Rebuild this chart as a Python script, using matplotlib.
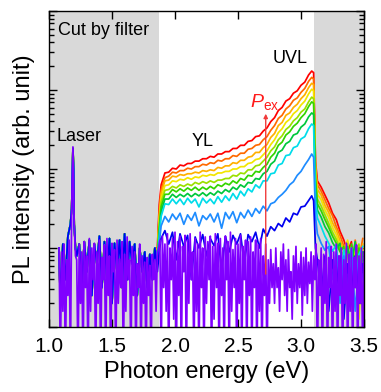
import numpy as np
import matplotlib
matplotlib.use("Agg")
import matplotlib.pyplot as plt
from matplotlib.ticker import LogLocator, NullFormatter, MultipleLocator, FormatStrFormatter

plt.rcParams['font.family'] = ['Liberation Sans', 'DejaVu Sans']
plt.rcParams['mathtext.fontset'] = 'custom'
plt.rcParams['mathtext.it'] = 'Liberation Sans:italic'
plt.rcParams['mathtext.rm'] = 'Liberation Sans'

# ---- data: log10(PL intensity) ----
# below-filter region + laser line (shared by the coloured spectra)
E_LOW = [1.08, 1.09, 1.11, 1.13, 1.15, 1.17, 1.18, 1.19, 1.195, 1.20, 1.21, 1.22,
         1.24, 1.26, 1.28, 1.30, 1.32, 1.34, 1.36, 1.38, 1.40, 1.42, 1.44, 1.46, 1.48,
         1.50, 1.52, 1.54, 1.56, 1.58, 1.60, 1.62, 1.64, 1.66, 1.68, 1.70, 1.72, 1.74,
         1.76, 1.78, 1.80, 1.82, 1.84]
LOW_LOG = [1.0, 0.3, 1.05, 0.6, 1.15, 1.3, 1.5, 2.26, 2.0, 1.3, 1.0, 0.9,
           1.05, 0.5, 1.08, 0.7, 1.1, 0.4, 1.05, 0.8, 1.15, 0.5, 1.08, 0.6, 1.12,
           0.3, 1.06, 0.7, 1.1, 0.5, 1.18, 0.6, 1.08, 0.8, 1.05, 0.4, 1.0, 0.7,
           0.95, 0.5, 0.92, 0.6, 1.0]

# YL / UVL window and the tail beyond the filter edge
E_SIG = [1.86, 1.875, 1.89,
         1.92, 1.95, 1.98, 2.01, 2.04, 2.07, 2.10, 2.13, 2.16, 2.19,
         2.22, 2.25, 2.28, 2.31, 2.34, 2.37, 2.40, 2.43, 2.46, 2.49,
         2.52, 2.55, 2.58, 2.61, 2.64, 2.67, 2.70, 2.73, 2.76, 2.79,
         2.82, 2.85, 2.88, 2.91, 2.94, 2.97, 3.00, 3.03, 3.06,
         3.085, 3.10, 3.115, 3.13,
         3.16, 3.19, 3.22, 3.25, 3.28, 3.31, 3.34, 3.37, 3.40, 3.43, 3.46, 3.49]

RED_LOG = [1.00, 1.55, 1.80,
           1.95, 1.96, 2.01, 2.00, 2.05, 2.04, 2.07, 2.07, 2.10, 2.10,
           2.13, 2.13, 2.16, 2.15, 2.19, 2.19, 2.22, 2.22, 2.26, 2.26,
           2.30, 2.30, 2.35, 2.36, 2.41, 2.42, 2.48, 2.52, 2.60, 2.65,
           2.74, 2.78, 2.86, 2.89, 2.96, 2.99, 3.06, 3.10, 3.19,
           3.24, 3.22, 2.10, 1.85,
           1.77, 1.67, 1.57, 1.44, 1.36, 1.21, 1.10, 0.95, 1.08, 0.50, 1.02, 0.30]
ORANGE_LOG = [0.95, 1.45, 1.74,
              1.89, 1.91, 1.96, 1.95, 1.98, 1.98, 2.01, 2.00, 2.03, 2.03,
              2.06, 2.05, 2.08, 2.07, 2.11, 2.10, 2.13, 2.13, 2.17, 2.16,
              2.20, 2.20, 2.25, 2.26, 2.30, 2.31, 2.37, 2.41, 2.49, 2.55,
              2.64, 2.68, 2.76, 2.80, 2.87, 2.90, 2.97, 3.02, 3.11,
              3.16, 3.14, 2.05, 1.80,
              1.72, 1.61, 1.50, 1.41, 1.27, 1.16, 1.02, 1.06, 0.40, 1.10, 0.85, 1.12]
GOLD_LOG = [0.90, 1.40, 1.69,
            1.85, 1.86, 1.91, 1.90, 1.93, 1.92, 1.94, 1.94, 1.96, 1.95,
            1.98, 1.97, 1.99, 1.98, 2.02, 2.01, 2.04, 2.04, 2.08, 2.07,
            2.11, 2.11, 2.15, 2.16, 2.21, 2.21, 2.27, 2.31, 2.40, 2.45,
            2.55, 2.59, 2.68, 2.71, 2.78, 2.82, 2.89, 2.94, 3.03,
            3.085, 3.07, 2.00, 1.74,
            1.67, 1.54, 1.45, 1.32, 1.23, 1.09, 0.99, 1.08, 0.20, 1.00, 0.60, 1.05]
YELLOW_LOG = [0.95, 1.35, 1.63,
              1.79, 1.80, 1.85, 1.84, 1.87, 1.86, 1.89, 1.87, 1.90, 1.89,
              1.92, 1.91, 1.93, 1.92, 1.95, 1.95, 1.97, 1.97, 2.00, 2.00,
              2.03, 2.03, 2.07, 2.08, 2.12, 2.13, 2.18, 2.23, 2.31, 2.37,
              2.46, 2.51, 2.59, 2.63, 2.70, 2.74, 2.81, 2.86, 2.95,
              3.01, 2.99, 1.95, 1.68,
              1.61, 1.48, 1.39, 1.26, 1.17, 1.04, 0.96, 1.10, 0.60, 1.04, 0.10, 1.00]
LIME_LOG = [0.90, 1.30, 1.58,
            1.73, 1.74, 1.78, 1.76, 1.80, 1.78, 1.81, 1.79, 1.83, 1.81,
            1.84, 1.82, 1.85, 1.83, 1.86, 1.86, 1.88, 1.88, 1.92, 1.91,
            1.95, 1.94, 1.99, 1.99, 2.04, 2.05, 2.10, 2.15, 2.23, 2.28,
            2.37, 2.42, 2.50, 2.54, 2.61, 2.65, 2.72, 2.76, 2.85,
            2.91, 2.89, 1.90, 1.62,
            1.53, 1.42, 1.31, 1.20, 1.11, 0.99, 0.90, 1.05, 0.30, 0.95, 1.05, 0.40]
GREEN_LOG = [0.85, 1.25, 1.52,
             1.68, 1.68, 1.74, 1.71, 1.75, 1.72, 1.76, 1.73, 1.77, 1.73,
             1.77, 1.74, 1.78, 1.75, 1.80, 1.78, 1.82, 1.80, 1.85, 1.82,
             1.88, 1.86, 1.92, 1.91, 1.97, 1.96, 2.02, 2.06, 2.15, 2.20,
             2.30, 2.34, 2.43, 2.47, 2.54, 2.58, 2.65, 2.70, 2.79,
             2.85, 2.83, 1.85, 1.56,
             1.47, 1.36, 1.26, 1.15, 1.06, 0.95, 1.02, 0.40, 1.05, 0.70, 1.00, 0.20]
TEAL_LOG = [0.90, 1.20, 1.46,
            1.62, 1.62, 1.68, 1.64, 1.68, 1.65, 1.69, 1.65, 1.69, 1.66,
            1.70, 1.66, 1.70, 1.67, 1.72, 1.69, 1.74, 1.71, 1.77, 1.74,
            1.80, 1.77, 1.83, 1.82, 1.88, 1.87, 1.94, 1.97, 2.06, 2.10,
            2.21, 2.24, 2.32, 2.35, 2.43, 2.45, 2.53, 2.57, 2.66,
            2.71, 2.69, 1.75, 1.48,
            1.39, 1.27, 1.19, 1.07, 0.99, 1.06, 0.50, 1.02, 0.80, 1.08, 0.30, 0.95]
CYAN_LOG = [0.85, 1.15, 1.40,
            1.56, 1.55, 1.62, 1.56, 1.62, 1.55, 1.63, 1.57, 1.62, 1.52,
            1.63, 1.57, 1.62, 1.56, 1.65, 1.58, 1.66, 1.60, 1.69, 1.62,
            1.72, 1.66, 1.75, 1.71, 1.80, 1.76, 1.85, 1.85, 1.94, 1.95,
            2.05, 2.07, 2.17, 2.18, 2.27, 2.29, 2.38, 2.41, 2.51,
            2.57, 2.55, 1.60, 1.38,
            1.27, 1.15, 1.06, 0.96, 1.04, 0.55, 0.98, 0.30, 1.00, 0.50, 0.92, 1.02]
AZURE_LOG = [0.80, 1.05, 1.28,
             1.40, 1.33, 1.43, 1.36, 1.44, 1.30, 1.42, 1.35, 1.45, 1.28,
             1.41, 1.36, 1.43, 1.33, 1.44, 1.25, 1.45, 1.37, 1.46, 1.32,
             1.45, 1.38, 1.48, 1.40, 1.50, 1.44, 1.53, 1.47, 1.56, 1.58,
             1.64, 1.68, 1.73, 1.80, 1.84, 1.92, 1.97, 2.05, 2.12,
             2.19, 2.15, 1.40, 1.18,
             1.06, 0.97, 1.02, 0.60, 0.95, 0.30, 0.90, 0.55, 0.98, 0.20, 0.85, 0.60]
BLUE_LOG = [0.70, 0.95, 1.12,
            1.22, 1.05, 1.20, 0.85, 1.18, 1.02, 1.16, 0.60, 1.14, 1.00,
            1.17, 0.90, 1.12, 1.03, 1.18, 0.70, 1.15, 0.95, 1.16, 1.05,
            1.18, 0.80, 1.17, 1.08, 1.20, 1.00, 1.24, 1.15, 1.27, 1.22,
            1.31, 1.27, 1.38, 1.33, 1.44, 1.42, 1.52, 1.53, 1.60,
            1.66, 1.60, 1.00, 0.85,
            0.40, 0.90, 0.20, 0.85, 0.50, 0.90, 0.10, 0.80, 0.40, 0.90, 0.30, 0.80]

# lowest power: noise only, sampled every 0.01 eV from 1.08 to 3.50 eV
VIOLET_LOG = [
    1.00, -0.5, 0.95, 0.2, 1.05, -0.5, 0.85, 0.4, 1.10, -0.5,
    1.5, 2.28, 1.3, 0.9, 0.85, -0.5, 1.05, 0.3, 0.95, -0.5,
    1.08, 0.5, 0.9, -0.5, 1.12, 0.2, 1.0, 0.6, 1.06, -0.5,
    0.95, 0.3, 1.1, -0.5, 0.88, 0.6, 1.04, -0.5, 1.12, 0.4,
    0.9, -0.5, 1.06, 0.7, 0.98, -0.5, 1.1, 0.3, 0.86, 0.5,
    1.08, -0.5, 0.92, 0.2, 1.14, 0.6, 0.85, -0.5, 1.02, 0.4,
    0.95, -0.5, 0.8, 0.5, 1.05, -0.5, 0.9, 0.3, 0.82, -0.5,
    0.88, 0.4, 0.78, -0.5, 0.92, 0.6, 0.85, 0.2, 0.95, 1.0,
    1.1, -0.5, 1.15, 0.5, 1.05, 0.2, 1.18, -0.5, 1.0, 0.6,
    1.12, 0.1, 1.2, -0.5, 1.08, 0.4, 1.15, -0.5, 1.02, 0.7,
    1.16, -0.5, 1.1, 0.3, 1.18, 0.6, 0.95, -0.5, 1.12, 0.2,
    1.05, -0.5, 1.2, 0.5, 1.0, -0.5, 1.14, 0.3, 1.08, 0.6,
    1.15, -0.5, 1.02, 0.1, 1.18, 0.5, 1.06, -0.5, 1.12, 0.4,
    1.0, -0.5, 1.15, 0.6, 1.08, -0.5, 1.2, 0.2, 0.98, 0.5,
    1.12, -0.5, 1.05, 0.3, 1.16, -0.5, 1.02, 0.6, 1.1, -0.5,
    1.08, 0.4, 1.14, -0.5, 0.95, 0.5, 1.1, -0.5, 1.04, 0.2,
    1.12, -0.5, 0.9, 0.4, 1.05, -0.5, 0.85, 0.3, 0.98, 0.5,
    0.8, 0.3, 1.0, 0.5, 0.75, 0.2, 0.95, 0.6, 1.05, 0.4,
    0.85, 0.2, 0.98, 0.5, 0.7, 0.1, 0.9, 0.45, 1.02, 0.3,
    0.8, 0.5, 0.95, 0.15, 0.88, 0.4, 1.0, 0.3, 0.82, 0.55,
    0.95, 0.2, 0.9, 0.6, 1.05, -0.5, 0.85, 0.4, 1.0, -0.5,
    0.92, 0.3, 1.08, -0.5, 0.88, 0.5, 1.02, -0.5, 0.95, 0.2,
    1.05, -0.5, 0.9, 0.4, 1.0, -0.5, 0.85, 0.3, 1.06, -0.5,
    0.92, 0.2, 1.0, -0.5, 0.88, 0.5, 1.04, -0.5, 0.9, 0.3,
    1.0, -0.5, 0.95]
E_VIOLET = np.linspace(1.08, 3.50, len(VIOLET_LOG))

SPECTRA = [(RED_LOG, "#ff0000"), (ORANGE_LOG, "#ff6a00"), (GOLD_LOG, "#ffb000"),
           (YELLOW_LOG, "#f2e600"), (LIME_LOG, "#9be000"), (GREEN_LOG, "#33d400"),
           (TEAL_LOG, "#00c83c"), (CYAN_LOG, "#00dcea"), (AZURE_LOG, "#1e8cff"),
           (BLUE_LOG, "#0000f0")]
VIOLET = "#8000ff"

FILTER_CUTS = [(1.0, 1.872), (3.105, 3.5)]
P_EX_ENERGY = 2.72
P_EX_SPAN = (0.67, 2.70)      # log10 of arrow tail / head

fig = plt.figure(figsize=(3.81, 3.92), dpi=100)
ax = fig.add_axes([0.1286, 0.1658, 0.8268, 0.8061])

for lo, hi in FILTER_CUTS:
    ax.axvspan(lo, hi, color="#d9d9d9", lw=0, zorder=0)

for vals, col in SPECTRA:
    assert len(vals) == len(E_SIG)
    x = np.array(E_LOW + E_SIG)
    y = 10.0 ** np.array(LOW_LOG + vals)
    ax.plot(x, y, color=col, lw=1.25, zorder=2)
ax.plot(E_VIOLET, 10.0 ** np.array(VIOLET_LOG), color=VIOLET, lw=1.25, zorder=3)

ax.annotate("", xy=(P_EX_ENERGY, 10 ** P_EX_SPAN[1]), xytext=(P_EX_ENERGY, 10 ** P_EX_SPAN[0]),
            arrowprops=dict(arrowstyle="-|>", color="#f03c3c", lw=1.0, mutation_scale=6,
                            shrinkA=0, shrinkB=0), zorder=5)
ax.text(2.595, 10 ** 2.78, r"$P_{\mathrm{ex}}$", color="#ff1a1a", fontsize=14,
        ha="left", va="baseline", zorder=6)

ax.text(0.029, 0.937, "Cut by filter", transform=ax.transAxes, fontsize=13,
        ha="left", va="center")
ax.text(1.242, 10 ** 2.416, "Laser", fontsize=13, ha="center", va="center")
ax.text(2.218, 10 ** 2.345, "YL", fontsize=13, ha="center", va="center")
ax.text(2.913, 10 ** 3.393, "UVL", fontsize=13, ha="center", va="center")

ax.set_xlim(1.0, 3.5)
ax.set_yscale("log")
ax.set_ylim(1, 1e4)
ax.xaxis.set_major_locator(MultipleLocator(0.5))
ax.xaxis.set_major_formatter(FormatStrFormatter("%.1f"))
ax.yaxis.set_major_locator(LogLocator(base=10, numticks=10))
ax.yaxis.set_minor_locator(LogLocator(base=10, subs=np.arange(2, 10), numticks=10))
ax.yaxis.set_major_formatter(NullFormatter())
ax.yaxis.set_minor_formatter(NullFormatter())
ax.tick_params(which="both", direction="in", top=True, right=True, width=1.0)
ax.tick_params(which="major", length=5.5, labelsize=15, pad=7)
ax.tick_params(which="minor", length=3.5)
for s in ax.spines.values():
    s.set_linewidth(1.0)
    s.set_zorder(10)

ax.set_xlabel("Photon energy (eV)", fontsize=17, labelpad=4)
ax.set_ylabel("PL intensity (arb. unit)", fontsize=17, labelpad=3)

fig.savefig("out.png", dpi=100)
